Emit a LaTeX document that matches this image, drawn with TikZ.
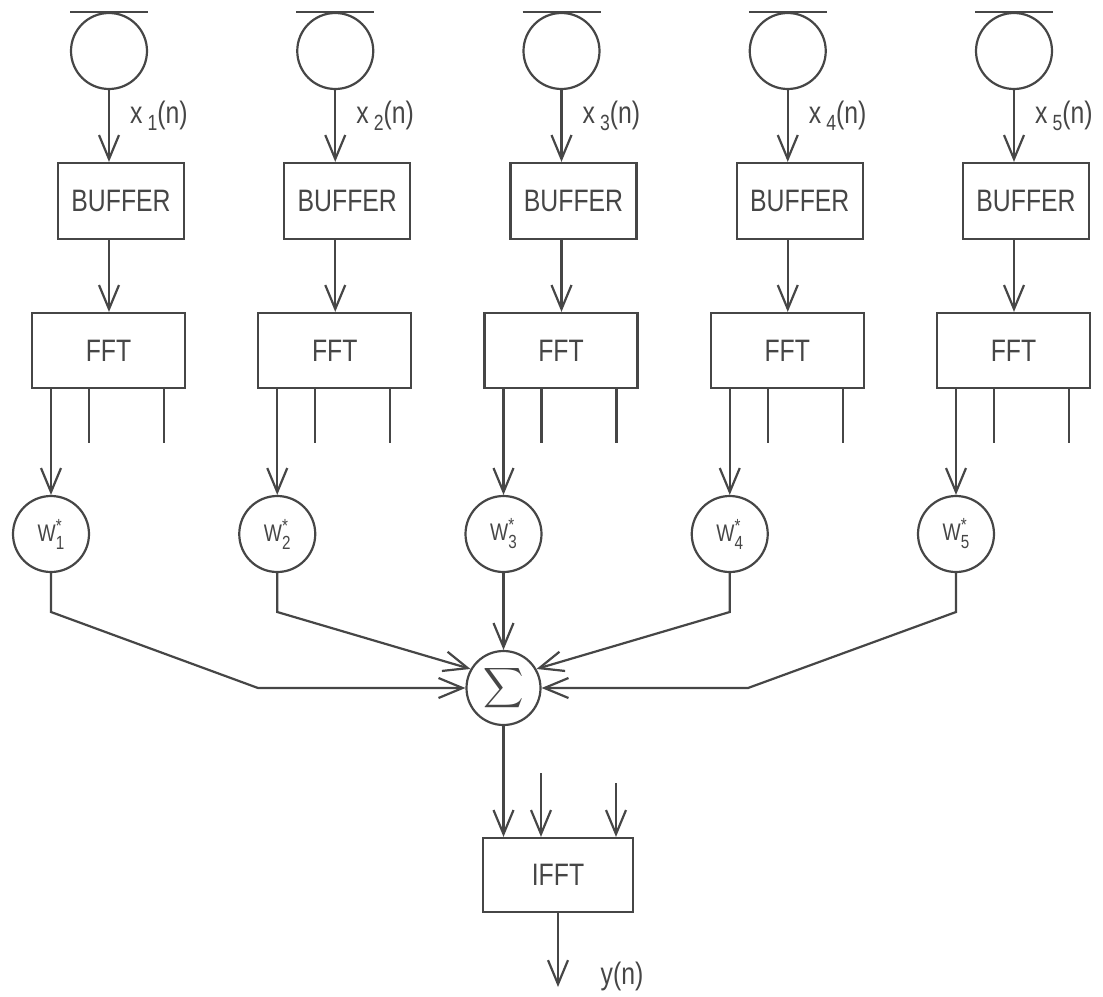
\documentclass[tikz,border=0pt]{standalone}
\usepackage{fontspec}
\usepackage{graphicx}
\usetikzlibrary{arrows.meta}
\newfontfamily\dfont[FakeStretch=0.8]{Liberation Sans}
\definecolor{ink}{RGB}{70,70,70}
\newcommand\wlab[1]{W\rlap{\raisebox{9pt}{\fontsize{19}{19}\selectfont *}}\raisebox{-8pt}{\fontsize{19}{19}\selectfont #1}}
\newcommand\xlab[1]{x\hspace{5pt}\raisebox{-7pt}{\fontsize{22}{22}\selectfont #1}(n)}
\begin{document}
\begin{tikzpicture}[x=1pt,y=-1pt,line width=2.2pt,draw=ink,
  arr/.style={-{Straight Barb[length=24pt,width=20pt,line width=2.2pt]}},
  sensor/.style={circle,draw,minimum size=76pt,inner sep=0pt},
  wnode/.style={circle,draw,minimum size=76pt,inner sep=0pt,text=ink,font=\dfont\fontsize{24}{24}\selectfont},
  bufbox/.style={rectangle,draw,minimum width=126pt,minimum height=76pt,inner sep=0pt,text=ink,font=\dfont\fontsize{31}{31}\selectfont},
  fftbox/.style={rectangle,draw,minimum width=153pt,minimum height=75pt,inner sep=0pt,text=ink,font=\dfont\fontsize{31}{31}\selectfont},
  lbl/.style={inner sep=0pt,text=ink,font=\dfont\fontsize{31}{31}\selectfont}]
\useasboundingbox (0,0) rectangle (1103,996);
\foreach \i in {0,...,4}{
  \pgfmathsetmacro\dx{\i*226.25}
  \pgfmathtruncatemacro\n{\i+1}
  \node[sensor] (s\i) at (109+\dx,51) {};
  \draw ([xshift=-39pt]s\i.north) -- ([xshift=39pt]s\i.north);
  \node[bufbox] (buf\i) at (121+\dx,201) {BUFFER};
  \node[fftbox] (fft\i) at (108.5+\dx,350.5) {FFT};
  \node[wnode] (w\i) at (51+\dx,534) {\wlab{\n}};
  \node[lbl,anchor=west] (xl\i) at (129+\dx,116) {\xlab{\n}};
  \coordinate (ta\i) at (89+\dx,443);
  \coordinate (tb\i) at (164+\dx,443);
  \draw[arr] (s\i.south) -- (buf\i.north -| s\i.south);
  \draw[arr] (buf\i.south -| s\i.south) -- (fft\i.north -| s\i.south);
  \draw[arr] (fft\i.south -| w\i.north) -- (w\i.north);
  \draw (fft\i.south -| ta\i) -- (ta\i);
  \draw (fft\i.south -| tb\i) -- (tb\i);
}
\node[circle,draw,minimum size=74pt,inner sep=0pt,text=ink] (sig) at (503.5,688) {\scalebox{2.8}{$\displaystyle\sum$}};
\node[fftbox,minimum width=150pt,minimum height=74pt] (ifft) at (558,875) {IFFT};
% connectors into the sum
\coordinate (c0a) at (51,612);
\coordinate (c0b) at (258,688);
\coordinate (c1a) at (277.25,612);
\coordinate (c3a) at (729.75,612);
\coordinate (c4a) at (956,612);
\coordinate (c4b) at (748,688);
\draw[arr] (w0.south) -- (c0a) -- (c0b) -- (sig.west);
\draw[arr] (w1.south) -- (c1a) -- (sig.150);
\draw[arr] (w2.south) -- (sig.north);
\draw[arr] (w3.south) -- (c3a) -- (sig.30);
\draw[arr] (w4.south) -- (c4a) -- (c4b) -- (sig.east);
% IFFT
\coordinate (in1) at (541,773);
\coordinate (in2) at (616,783);
\coordinate (yout) at (558,987);
\draw[arr] (sig.south) -- (ifft.north -| sig.south);
\draw[arr] (in1) -- (ifft.north -| in1);
\draw[arr] (in2) -- (ifft.north -| in2);
\draw[arr] (ifft.south) -- (yout);
\node[lbl] (yl) at (622,976) {y(n)};
\end{tikzpicture}
\end{document}
